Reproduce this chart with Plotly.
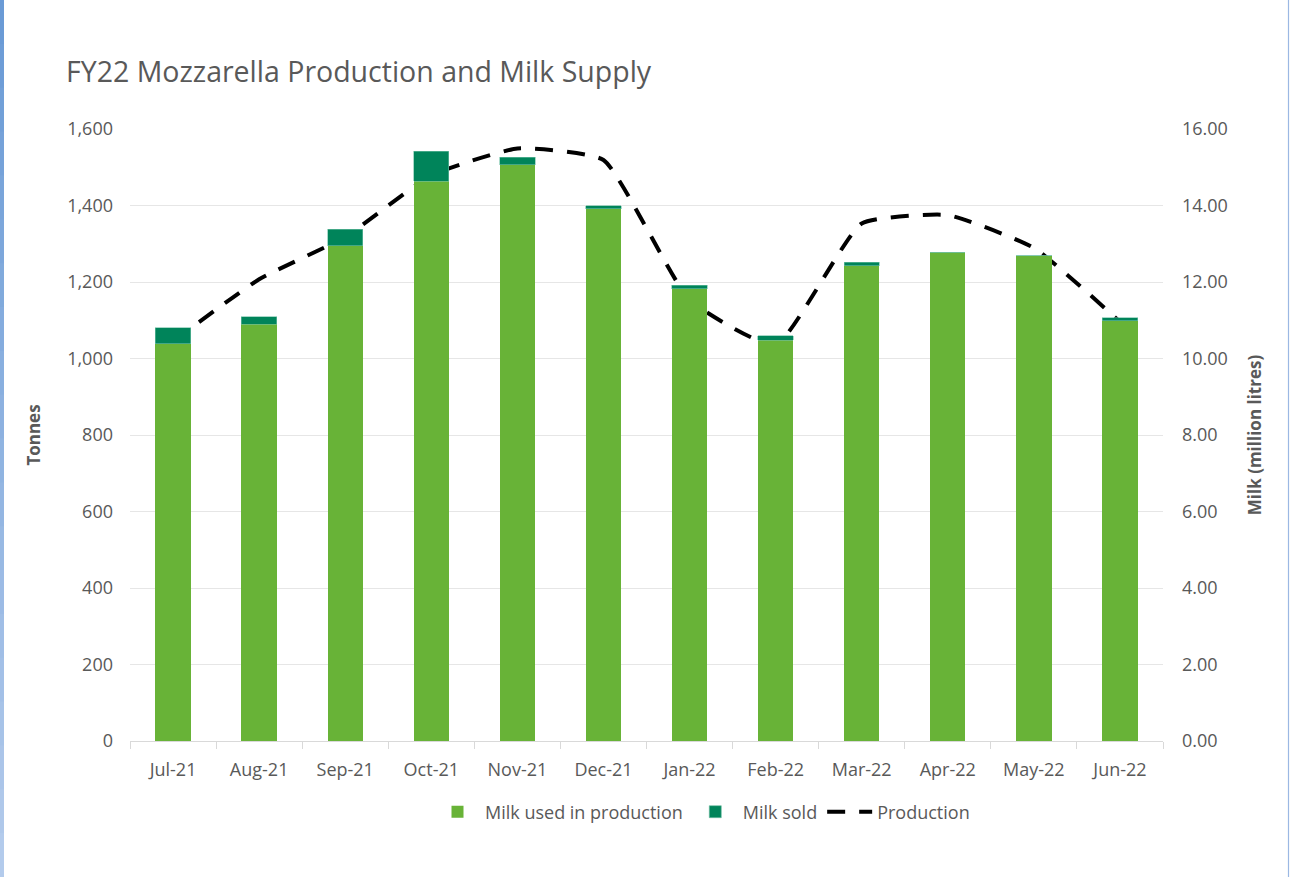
import plotly.graph_objects as go

months = ["Jul-21", "Aug-21", "Sep-21", "Oct-21", "Nov-21", "Dec-21",
          "Jan-22", "Feb-22", "Mar-22", "Apr-22", "May-22", "Jun-22"]
milk_used = [10.38, 10.90, 12.95, 14.63, 15.06, 13.91, 11.83, 10.48, 12.43, 12.78, 12.68, 10.99]
milk_sold = [0.43, 0.19, 0.43, 0.79, 0.20, 0.09, 0.09, 0.11, 0.08, 0.0, 0.0, 0.07]
production = [1045, 1207, 1318, 1479, 1549, 1519, 1153, 1035, 1353, 1375, 1289, 1096]

LIGHT = "#68B337"
DARK = "#00845A"
GREY = "#595959"
FONT = "'Open Sans', sans-serif"
TS = 18

fig = go.Figure()
fig.add_trace(go.Bar(x=months, y=milk_used, name="Milk used in production",
                     marker=dict(color=LIGHT, line=dict(width=0)), yaxis="y2"))
fig.add_trace(go.Bar(x=months, y=milk_sold, name="Milk sold",
                     marker=dict(color=DARK, line=dict(color="#6fbfa5", width=0.6)), yaxis="y2"))
fig.add_trace(go.Scatter(x=months, y=production, name="Production", mode="lines",
                         line=dict(color="black", width=4, dash="18px,14px", shape="spline", smoothing=0.45),
                         yaxis="y"))

L, R, T, B = 130, 128, 129, 136
W, H = 1291, 877
pw = W - L - R
ph = H - T - B

def px_x(p):
    return (p - L) / pw

def px_y(p):
    return (H - B - p) / ph

shapes = []
n = 20
top = (0x6b, 0x9b, 0xd6)
bot = (0xb3, 0xcb, 0xec)
for i in range(n):
    f = i / (n - 1)
    c = tuple(int(top[k] + (bot[k] - top[k]) * f) for k in range(3))
    shapes.append(dict(type="rect", xref="paper", yref="paper",
                       x0=px_x(0), x1=px_x(4),
                       y0=px_y(H * (i + 1) / n) - 0.002, y1=px_y(H * i / n),
                       fillcolor="rgb(%d,%d,%d)" % c, line=dict(width=0), layer="above"))
shapes.append(dict(type="line", xref="paper", yref="paper",
                   x0=px_x(1288.5), x1=px_x(1288.5), y0=px_y(H), y1=px_y(0),
                   line=dict(color="#9bb8e3", width=1.2)))

fig.update_layout(
    width=W, height=H,
    margin=dict(l=L, r=R, t=T, b=B),
    paper_bgcolor="white", plot_bgcolor="white",
    barmode="stack", bargap=0.59,
    font=dict(family=FONT, color=GREY, size=TS),
    title=dict(text="FY22 Mozzarella Production and Milk Supply",
               x=66 / W, xanchor="left", xref="container",
               y=1 - 72 / H, yref="container", yanchor="middle",
               font=dict(size=28.5, color=GREY, family=FONT)),
    xaxis=dict(showgrid=False, showline=True, linecolor="#d9d9d9", linewidth=1,
               ticks="outside", tickson="boundaries", ticklen=7, tickcolor="#d9d9d9",
               tickfont=dict(size=TS, color=GREY), ticklabelstandoff=12),
    yaxis=dict(range=[0, 1600], dtick=200, tickformat=",", showgrid=True,
               gridcolor="#e6e6e6", gridwidth=1, zeroline=False,
               title=dict(text="<b>Tonnes</b>", font=dict(size=17, color=GREY), standoff=22),
               tickfont=dict(size=TS, color=GREY), ticks="", ticklabelstandoff=16),
    yaxis2=dict(range=[0, 16], dtick=2, tickformat=".2f", overlaying="y", side="right",
                showgrid=False, zeroline=False,
                title=dict(text="<b>Milk (million litres)</b>", font=dict(size=17, color=GREY), standoff=22),
                tickfont=dict(size=TS, color=GREY), ticks="", ticklabelstandoff=18),
    legend=dict(orientation="h", x=px_x(430), xanchor="left", y=px_y(812), yanchor="middle",
                font=dict(size=TS, color=GREY), itemwidth=45, traceorder="normal"),
    shapes=shapes,
)
fig.write_html("out.html")
